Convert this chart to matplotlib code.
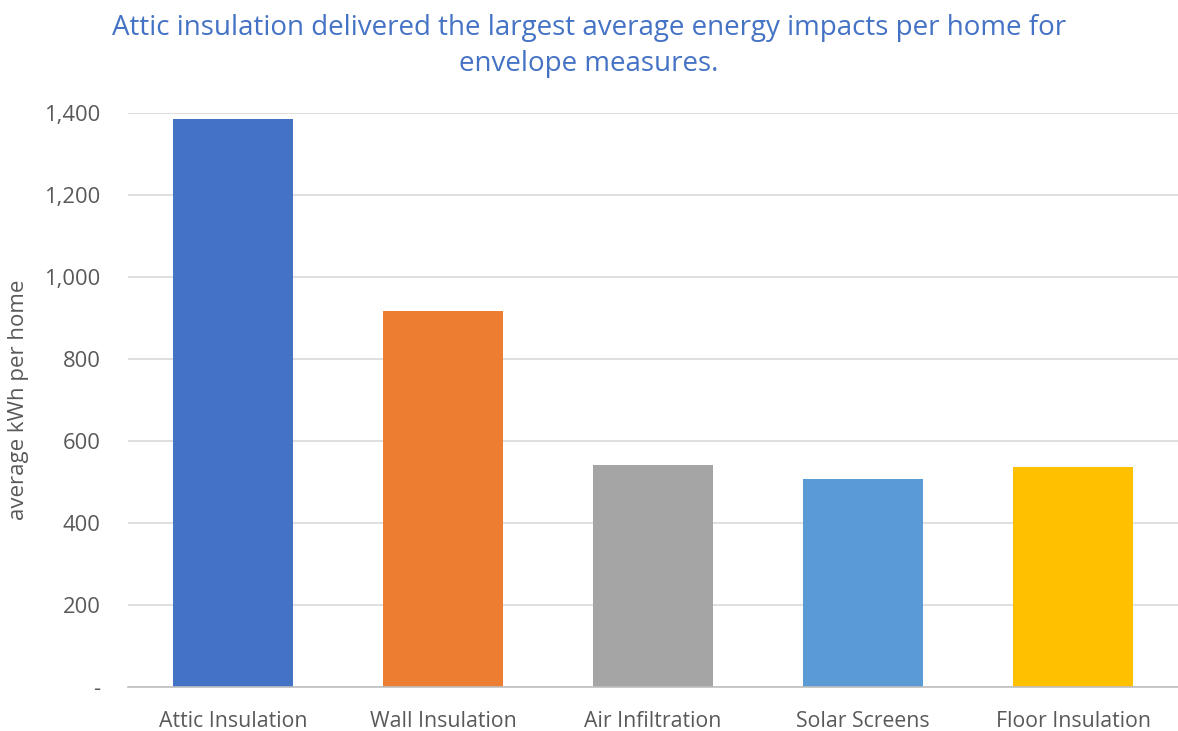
import matplotlib.pyplot as plt
from matplotlib.ticker import FuncFormatter

categories = ['Attic Insulation', 'Wall Insulation', 'Air Infiltration', 'Solar Screens', 'Floor Insulation']
avg_kwh = [1386, 917, 542, 508, 537]
bar_colors = ['#4472C4', '#ED7D31', '#A5A5A5', '#5B9BD5', '#FFC000']
yticks = [0, 200, 400, 600, 800, 1000, 1200, 1400]

plt.rcParams['font.family'] = ['Open Sans', 'DejaVu Sans']

fig = plt.figure(figsize=(11.78, 7.31), dpi=100)
ax = fig.add_axes([0.1087, 0.0602, 0.8913, 0.7852])

x = range(len(categories))
ax.bar(x, avg_kwh, width=0.57, color=bar_colors, zorder=3)

ax.set_xlim(-0.5, len(categories) - 0.5)
ax.set_ylim(0, 1400)
ax.set_yticks(yticks)
ax.yaxis.set_major_formatter(FuncFormatter(lambda v, p: '-' if v == 0 else f'{int(v):,}'))
ax.set_xticks(list(x))
ax.set_xticklabels(categories)

ax.grid(axis='y', color='#D9D9D9', linewidth=1.2, zorder=0)
for s in ['top', 'right', 'left']:
    ax.spines[s].set_visible(False)
ax.spines['bottom'].set_color('#BFBFBF')
ax.spines['bottom'].set_linewidth(1.2)
ax.spines['bottom'].set_zorder(4)

ax.tick_params(axis='x', length=0, labelsize=15.3, labelcolor='#595959', pad=17)
ax.tick_params(axis='y', length=0, labelsize=15.8, labelcolor='#595959', pad=20)

ax.set_ylabel('average kWh per home', fontsize=16, color='#595959')
ax.yaxis.set_label_coords(-0.094, 0.5)

fig.text(0.5, 0.937, 'Attic insulation delivered the largest average energy impacts per home for\nenvelope measures.',
         ha='center', va='center', fontsize=20, color='#4472C4', linespacing=1.4)

fig.savefig('out.png', dpi=100)
